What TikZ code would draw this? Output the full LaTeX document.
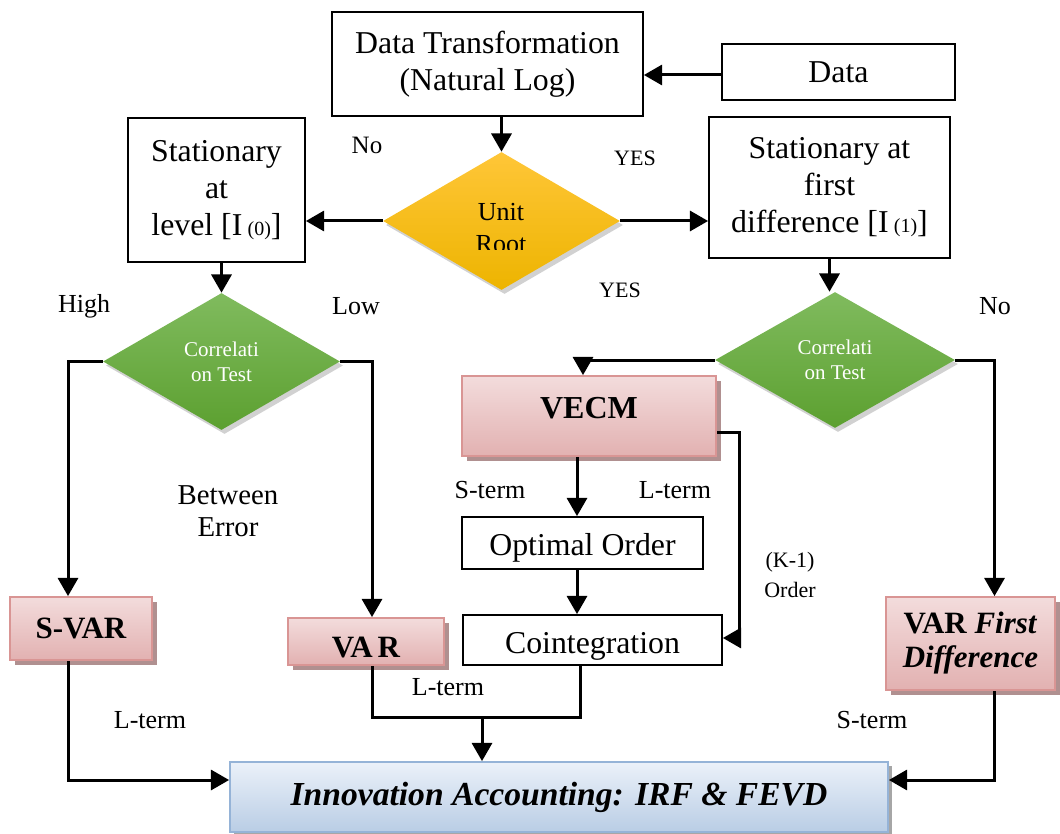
\documentclass[tikz,border=0pt]{standalone}
\usepackage{fontspec}
\setmainfont{Liberation Serif}
\usetikzlibrary{arrows,shapes.geometric,shadows,calc}
\definecolor{pinktop}{HTML}{F3DCDC}
\definecolor{pinkbot}{HTML}{E2B1B1}
\definecolor{pinkedge}{HTML}{D99594}
\definecolor{shadowc}{HTML}{B09090}
\definecolor{bluetop}{HTML}{EBF1F9}
\definecolor{bluebot}{HTML}{B9CDE5}
\definecolor{blueedge}{HTML}{95B3D7}
\definecolor{yeltop}{HTML}{FFC638}
\definecolor{yelbot}{HTML}{EDB400}
\definecolor{grntop}{HTML}{80BB5E}
\definecolor{grnbot}{HTML}{5CA030}
\newcommand{\shifttxt}[2]{\raisebox{#1}[\height][\depth]{#2}}
\tikzset{
  plain/.style   = {shape=rectangle, draw, line width=1pt, align=center,
                    inner sep=0pt, font=\fontsize{15.9}{18.5}\selectfont},
  pinkbox/.style = {shape=rectangle, draw=pinkedge, line width=1pt, align=center,
                    inner sep=0pt, top color=pinktop, middle color=white!60!pinktop,
                    bottom color=pinkbot,
                    drop shadow={shadow xshift=2.5pt, shadow yshift=-2.5pt,
                                 fill=shadowc, opacity=1},
                    font=\fontsize{15.5}{17}\selectfont\bfseries},
  bluebox/.style = {shape=rectangle, draw=blueedge, line width=1pt, align=center,
                    inner sep=0pt, top color=bluetop, bottom color=bluebot,
                    drop shadow={shadow xshift=2pt, shadow yshift=-2pt,
                                 fill=gray!70, opacity=1},
                    font=\fontsize{16.8}{19}\selectfont\bfseries\itshape},
  test/.style    = {shape=diamond, inner sep=0pt, align=center,
                    drop shadow={shadow xshift=1.5pt, shadow yshift=-2pt,
                                 fill=gray!60, opacity=.6}},
  unitroot/.style= {test, top color=yeltop, bottom color=yelbot},
  corr/.style    = {test, top color=grntop, bottom color=grnbot,
                    text=white, font=\fontsize{10.5}{12.5}\selectfont},
  lbl/.style     = {inner sep=0pt, align=center, font=\fontsize{13}{16}\selectfont},
  conn/.style    = {line width=1.5pt},
  arr/.style     = {conn, ->}
}
\begin{document}
\begin{tikzpicture}[x=0.5pt, y=-0.5pt, >=triangle 60]
\useasboundingbox (0,0) rectangle (1060,834);
% boxes
\node [plain, minimum width=155.5pt, minimum height=52pt] (trans) at (487.5,64)
  {Data Transformation\\(Natural Log)};
\node [plain, minimum width=116.5pt, minimum height=28pt] (data) at (838.5,72) {Data};
\node [unitroot, minimum width=118.5pt, minimum height=69pt] (unit) at (501.5,221) {};
\begin{scope}
  \clip (400,190) rectangle (600,250);
  \node [lbl] (unittxt) at (501,228) {Unit\\Root};
\end{scope}
\node [plain, minimum width=88.5pt, minimum height=72pt] (lvl) at (216.5,190)
  {Stationary\\at\\level [I\,{\fontsize{10}{12}\selectfont(0)}]};
\node [plain, minimum width=120.5pt, minimum height=70.5pt] (fdiff) at (829.5,187.5)
  {Stationary at\\first\\difference [I\,{\fontsize{10}{12}\selectfont(1)}]};
\node [corr, minimum width=118.5pt, minimum height=68.5pt] (corrA) at (221.5,361.5)
  {Correlati\\on Test};
\node [corr, minimum width=120pt, minimum height=68pt] (corrB) at (835,360)
  {Correlati\\on Test};
\node [pinkbox, minimum width=71pt, minimum height=31.5pt] (svar) at (81,628.5) {S-VAR};
\node [pinkbox, minimum width=78pt, minimum height=23.5pt] (var) at (366,641.5)
  {\shifttxt{-3pt}{VA\,R}};
\node [pinkbox, minimum width=127pt, minimum height=40pt, font=\fontsize{16}{18}\selectfont\bfseries]
  (vecm) at (589,416) {\shifttxt{4pt}{VECM}};
\node [plain, minimum width=120.5pt, minimum height=26pt] (optimal) at (582.5,543)
  {\shifttxt{-2.5pt}{Optimal Order}};
\node [plain, minimum width=129.5pt, minimum height=25pt] (coint) at (592.5,640)
  {\shifttxt{-3pt}{Cointegration}};
\node [pinkbox, minimum width=84.5pt, minimum height=46.5pt, font=\fontsize{15.5}{17}\selectfont\bfseries]
  (vfd) at (970.5,643.5) {VAR \textit{First}\\\textit{Difference}};
\node [bluebox, minimum width=329pt, minimum height=35pt] (innov) at (559,797)
  {Innovation Accounting: IRF \& FEVD};
% labels
\node [lbl, font=\fontsize{12.5}{15}\selectfont] (no1) at (367,145) {No};
\node [lbl, font=\fontsize{11}{13}\selectfont] (yes1) at (635,158) {YES};
\node [lbl, font=\fontsize{11}{13}\selectfont] (yes2) at (620,290) {YES};
\node [lbl] (high) at (84,306) {High};
\node [lbl] (low) at (356,306) {Low};
\node [lbl] (no2) at (995,306) {No};
\node [lbl, font=\fontsize{14.4}{16}\selectfont] (betw) at (228,511) {Between\\Error};
\node [lbl] (sterm1) at (490,490) {S-term};
\node [lbl] (lterm1) at (675,490) {L-term};
\node [lbl, font=\fontsize{11}{15}\selectfont] (kord) at (790,575) {(K-1)\\Order};
\node [lbl] (lterm2) at (448,687) {L-term};
\node [lbl] (lterm3) at (150,720) {L-term};
\node [lbl] (sterm2) at (872,720) {S-term};
% connectors
\coordinate (join) at (482,717);
\draw [arr] (data.west |- 0,75) -- (trans.east |- 0,75);
\draw [arr] (unit.north |- trans.south) -- (unit.north);
\draw [arr] (unit.west) -- (unit.west -| lvl.east);
\draw [arr] (unit.east) -- (unit.east -| fdiff.west);
\draw [arr] (corrA.north |- lvl.south) -- (corrA.north);
\draw [arr] (fdiff.south) -- (fdiff.south |- corrB.north);
\draw [arr] (corrA.west) -| ([xshift=-6.5pt]svar.north);
\draw [arr] (corrA.east) -| ([xshift=3pt]var.north);
\draw [arr] (corrB.west) -| ([xshift=-3pt]vecm.north);
\draw [arr] (corrB.east) -| ([xshift=12pt]vfd.north);
\draw [arr] ([xshift=-6pt]vecm.south) -- ([xshift=-6pt]vecm.south |- optimal.north);
\draw [arr] ([xshift=-2.75pt]optimal.south) -- ([xshift=-2.75pt]optimal.south |- coint.north);
\draw [arr] ([yshift=-8pt]vecm.east) -- ++(22,0) |- ([yshift=1pt]coint.east);
\draw [conn] ([xshift=3pt]var.south) |- (join) -| ([xshift=-6.25pt]coint.south);
\draw [arr] (join) -- (join |- innov.north);
\draw [arr] ([xshift=-6.5pt]svar.south) |- ([yshift=8.5pt]innov.west);
\draw [arr] ([xshift=12pt]vfd.south) |- ([yshift=8.5pt]innov.east);
\end{tikzpicture}
\end{document}
